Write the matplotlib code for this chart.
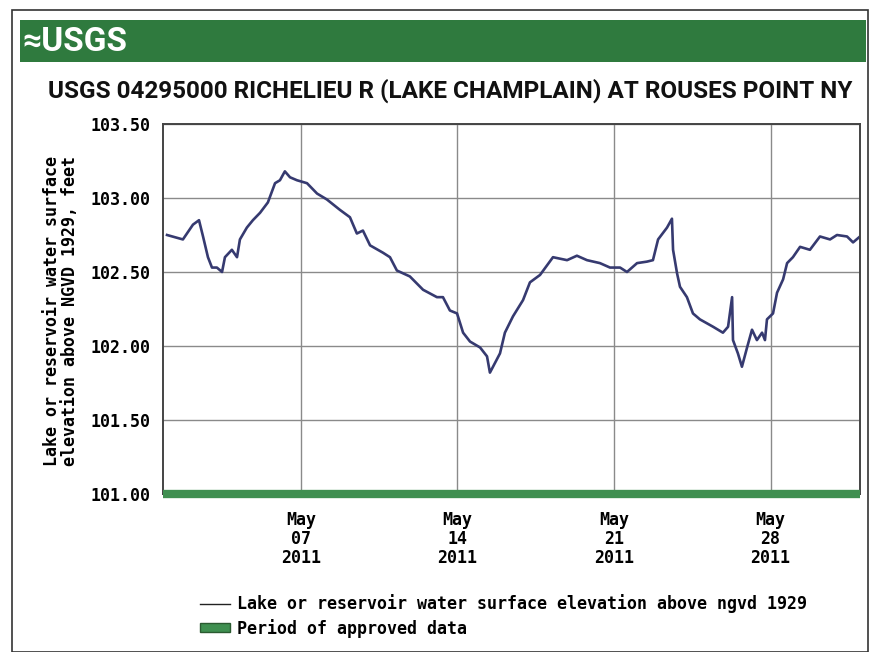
import matplotlib.pyplot as plt
from matplotlib.lines import Line2D
from matplotlib.patches import Rectangle, Patch
import numpy as np
import pandas as pd

# day of May 2011 (fractional) and lake elevation in feet
days = [1.01, 1.72, 2.17, 2.44, 2.62, 2.84, 3.02, 3.24, 3.47, 3.60, 3.91, 4.14,
        4.27, 4.58, 4.85, 5.17, 5.52, 5.84, 6.06, 6.28, 6.51, 6.82, 7.27, 7.72,
        8.16, 8.74, 9.19, 9.50, 9.77, 10.09, 10.67, 10.98, 11.29, 11.87, 12.46,
        13.08, 13.35, 13.66, 13.98, 14.25, 14.56, 15.01, 15.32, 15.45, 15.90,
        16.12, 16.48, 16.93, 17.24, 17.69, 18.27, 18.90, 19.34, 19.79, 20.37,
        20.82, 21.27, 21.58, 22.03, 22.47, 22.74, 22.97, 23.37, 23.59, 23.64,
        23.82, 23.95, 24.26, 24.53, 24.84, 25.43, 25.87, 26.10, 26.28, 26.32,
        26.54, 26.72, 26.95, 27.17, 27.39, 27.62, 27.75, 27.84, 28.11, 28.29,
        28.56, 28.74, 29.00, 29.32, 29.76, 30.21, 30.66, 30.97, 31.42, 31.69,
        32.00]
elev = [102.75, 102.72, 102.82, 102.85, 102.74, 102.60, 102.53, 102.53, 102.50,
        102.60, 102.65, 102.60, 102.72, 102.80, 102.85, 102.90, 102.97, 103.10,
        103.12, 103.18, 103.14, 103.12, 103.10, 103.03, 102.99, 102.92, 102.87,
        102.76, 102.78, 102.68, 102.63, 102.60, 102.51, 102.47, 102.38, 102.33,
        102.33, 102.24, 102.22, 102.09, 102.03, 101.99, 101.93, 101.82, 101.95,
        102.09, 102.20, 102.31, 102.43, 102.48, 102.60, 102.58, 102.61, 102.58,
        102.56, 102.53, 102.53, 102.50, 102.56, 102.57, 102.58, 102.72, 102.80,
        102.86, 102.65, 102.49, 102.40, 102.33, 102.22, 102.18, 102.13, 102.09,
        102.13, 102.33, 102.04, 101.95, 101.86, 101.99, 102.11, 102.04, 102.09,
        102.04, 102.18, 102.22, 102.36, 102.45, 102.56, 102.60, 102.67, 102.65,
        102.74, 102.72, 102.75, 102.74, 102.70, 102.74]

yticks = [101.0, 101.5, 102.0, 102.5, 103.0, 103.5]
xtick_days = [7, 14, 21, 28]
title = "USGS 04295000 RICHELIEU R (LAKE CHAMPLAIN) AT ROUSES POINT NY"
ylab = "Lake or reservoir water surface\nelevation above NGVD 1929, feet"
leg_line = "Lake or reservoir water surface elevation above ngvd 1929"
leg_bar = "Period of approved data"

may0 = pd.Timestamp("2011-04-30")
def to_time(d):
    return may0 + pd.to_timedelta(np.asarray(d), unit="D")

t = to_time(days)

mono = "DejaVu Sans Mono"
green = "#2f7a3e"
fs = 12

fig = plt.figure(figsize=(8.79, 6.52), dpi=100)

# outer frame
fig.patches.append(Rectangle((12/879, 0), 856/879, 1 - 10/652, transform=fig.transFigure,
                             fill=False, ec="#333333", lw=1.2))
# green banner
fig.patches.append(Rectangle((20/879, 1 - 62/652), 846/879, 42/652, transform=fig.transFigure,
                             fc=green, ec="none"))
fig.text(22/879, 1 - 42/652, "\u2248USGS", color="white", fontsize=24, fontweight="bold",
         family=["Roboto", "DejaVu Sans"], va="center", ha="left")
fig.text(450/879, 1 - 91/652, title, fontsize=17.5, fontweight="bold",
         family=["Roboto", "DejaVu Sans"], va="center", ha="center", color="#111111")

ax = fig.add_axes([163/879, 1 - 494/652, 697/879, 370/652])
ax.plot(t, elev, color="#363a70", lw=1.9)
ax.axhline(101.0, color="#3f8f50", lw=6, solid_capstyle="butt", zorder=3, clip_on=False)

ax.set_ylim(101.0, 103.5)
ax.set_xlim(to_time(0.83), to_time(32.0))
ax.set_yticks(yticks)
ax.set_yticklabels(["%.2f" % v for v in yticks], family=mono, fontweight="bold", fontsize=fs)
ax.set_xticks(to_time(xtick_days))
ax.set_xticklabels(["May\n%02d\n2011" % d for d in xtick_days], family=mono,
                   fontweight="bold", fontsize=fs, linespacing=1.1)
ax.tick_params(axis="y", length=0, pad=9)
ax.tick_params(axis="x", length=0, pad=12)
ax.grid(True, color="#8a8a8a", lw=1)
for s in ax.spines.values():
    s.set_color("#444444")
    s.set_linewidth(1.4)

fig.text(61/879, 1 - 311/652, ylab, rotation=90, family=mono, fontweight="bold",
         fontsize=fs, ha="center", va="center", linespacing=1.0)

handles = [Line2D([], [], color="#222222", lw=1),
           Patch(fc="#3f8f50", ec="#2a5a30")]
fig.legend(handles, [leg_line, leg_bar], loc="upper left",
           bbox_to_anchor=(185/879, 1 - 579/652), frameon=False,
           prop={"family": mono, "weight": "bold", "size": fs},
           handlelength=1.8, handleheight=0.45, handletextpad=0.4, labelspacing=0.35)

fig.savefig("out.png", dpi=100)
